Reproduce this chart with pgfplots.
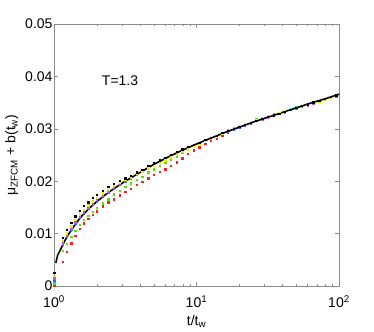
\documentclass[border=0pt]{standalone}
\usepackage{pgfplots}
\pgfplotsset{compat=1.18}
\usepackage{pgfplotstable}
\usetikzlibrary{calc}
\usepackage{fontspec}
\setmainfont{Liberation Sans}
\definecolor{myyel}{RGB}{235,235,0}
\definecolor{myvio}{RGB}{185,80,255}
\definecolor{myblu}{RGB}{60,90,255}
\definecolor{mycya}{RGB}{0,215,215}
\definecolor{mygrn}{RGB}{80,230,0}
\definecolor{myred}{RGB}{255,30,30}
\definecolor{axgray}{RGB}{140,140,140}

% t/tw and the seven measured curves
\pgfplotstableread{
t      k      y      m      b      c      g      r
1.000  0.0025 0.0020 0.0015 0.0011 0.0007 0.0004 0.0000
1.148  0.0092 0.0086 0.0082 0.0079 0.0080 0.0067 0.0046
1.230  0.0108 0.0101 0.0097 0.0094 0.0095 0.0081 0.0065
1.318  0.0121 0.0114 0.0110 0.0107 0.0108 0.0094 0.0082
1.413  0.0133 0.0126 0.0122 0.0119 0.0120 0.0106 0.0096
1.514  0.0144 0.0137 0.0133 0.0130 0.0131 0.0117 0.0109
1.622  0.0153 0.0146 0.0142 0.0139 0.0140 0.0126 0.0120
1.738  0.0160 0.0154 0.0150 0.0147 0.0148 0.0134 0.0128
1.862  0.0168 0.0162 0.0158 0.0155 0.0156 0.0142 0.0136
1.995  0.0174 0.0169 0.0165 0.0162 0.0163 0.0149 0.0143
2.188  0.0182 0.0177 0.0173 0.0171 0.0171 0.0158 0.0152
2.399  0.0189 0.0184 0.0181 0.0179 0.0179 0.0166 0.0160
2.630  0.0195 0.0191 0.0188 0.0186 0.0187 0.0175 0.0166
2.884  0.0201 0.0197 0.0195 0.0193 0.0194 0.0182 0.0173
3.162  0.0206 0.0203 0.0201 0.0200 0.0200 0.0189 0.0180
3.467  0.0211 0.0208 0.0207 0.0206 0.0206 0.0196 0.0186
3.802  0.0217 0.0214 0.0213 0.0213 0.0213 0.0203 0.0193
4.169  0.0222 0.0219 0.0219 0.0219 0.0219 0.0209 0.0199
4.571  0.0229 0.0225 0.0226 0.0226 0.0226 0.0217 0.0206
5.012  0.0234 0.0230 0.0232 0.0232 0.0232 0.0223 0.0212
5.495  0.0240 0.0236 0.0239 0.0238 0.0238 0.0230 0.0218
6.026  0.0245 0.0240 0.0244 0.0243 0.0243 0.0236 0.0223
6.607  0.0251 0.0246 0.0250 0.0249 0.0249 0.0242 0.0229
7.244  0.0256 0.0251 0.0255 0.0254 0.0254 0.0248 0.0236
7.943  0.0261 0.0256 0.0260 0.0259 0.0259 0.0254 0.0244
8.710  0.0266 0.0261 0.0265 0.0264 0.0264 0.0260 0.0252
9.550  0.0270 0.0267 0.0270 0.0269 0.0269 0.0266 0.0259
10.47  0.0274 0.0271 0.0274 0.0273 0.0273 0.0271 0.0265
11.48  0.0279 0.0277 0.0279 0.0278 0.0278 0.0277 0.0272
12.59  0.0283 0.0281 0.0283 0.0282 0.0282 0.0282 0.0277
13.80  0.0287 0.0286 0.0287 0.0286 0.0286 0.0287 0.0282
15.14  0.0292 0.0291 0.0292 0.0291 0.0291 0.0293 0.0288
16.60  0.0296 0.0296 0.0296 0.0295 0.0295 0.0297 0.0293
18.20  0.0300 0.0300 0.0300 0.0299 0.0299 0.0302 0.0298
19.95  0.0304 0.0305 0.0304 0.0303 0.0303 0.0306 0.0303
21.88  0.0308 0.0309 0.0308 0.0307 0.0307 0.0310 0.0307
23.99  0.0312 0.0313 0.0312 0.0311 0.0311 0.0314 0.0311
26.30  0.0316 0.0317 0.0316 0.0315 0.0316 0.0318 0.0315
28.84  0.0319 0.0320 0.0318 0.0318 0.0319 0.0320 0.0318
31.62  0.0323 0.0324 0.0322 0.0322 0.0323 0.0324 0.0322
34.67  0.0326 0.0327 0.0326 0.0326 0.0327 0.0328 0.0326
38.02  0.0329 0.0330 0.0329 0.0329 0.0330 0.0330 0.0329
41.69  0.0333 0.0334 0.0332 0.0333 0.0334 0.0334 0.0333
45.71  0.0337 0.0337 0.0336 0.0337 0.0338 0.0338 0.0337
50.12  0.0340 0.0340 0.0339 0.0340 0.0341 0.0340 0.0340
54.95  0.0344 0.0344 0.0343 0.0344 0.0344 0.0344 0.0344
60.26  0.0347 0.0346 0.0345 0.0346 0.0347 0.0347 0.0347
66.07  0.0351 0.0350 0.0349 0.0350 0.0351 0.0351 0.0350
72.44  0.0354 0.0353 0.0352 0.0353 0.0354 0.0354 0.0353
79.43  0.0357 0.0356 0.0355 0.0356 0.0357 0.0357 0.0356
87.10  0.0361 0.0360 0.0359 0.0360 0.0361 0.0361 0.0360
95.50  0.0364 0.0363 0.0362 0.0363 0.0364 0.0364 0.0363
}\meas

% fitted curve
\pgfplotstableread{
t      f
1.030  0.0044
1.059  0.0058
1.122  0.0072
1.189  0.0086
1.259  0.0098
1.334  0.0108
1.413  0.0118
1.496  0.0127
1.585  0.0135
1.778  0.0149
1.995  0.0161
2.239  0.0172
2.512  0.0182
2.818  0.0191
3.162  0.0200
3.548  0.0208
3.981  0.0216
4.467  0.0224
5.012  0.0232
6.310  0.0246
7.943  0.0259
10.00  0.0271
12.59  0.0282
15.85  0.0293
19.95  0.0303
25.12  0.0313
31.62  0.0322
39.81  0.0331
50.12  0.0340
63.10  0.0349
79.43  0.0357
100.0  0.0366
}\fitc

\begin{document}
\begin{tikzpicture}
\begin{axis}[
  xmode=log, scale only axis, width=285pt, height=262pt,
  xmin=1, xmax=100, ymin=0, ymax=0.05,
  font=\fontsize{14}{16}\selectfont,
  xtick={1,10,100},
  xticklabels={10\textsuperscript{0},10\textsuperscript{1},10\textsuperscript{2}},
  xticklabel style={yshift=-6pt},
  ytick={0,0.01,0.02,0.03,0.04,0.05},
  yticklabels={0,0.01,0.02,0.03,0.04,0.05},
  yticklabel style={xshift=2pt},
  scaled y ticks=false,
  tick align=inside, major tick length=4pt, minor tick length=2pt,
  axis line style={axgray}, tick style={axgray},
  xlabel={t/t\textsubscript{w}},
  xlabel style={yshift=-1pt},
  ylabel={μ\textsubscript{ZFCM} + b(t\textsubscript{w})},
  every axis plot/.append style={only marks, mark=square*, mark size=0.7pt},
]
\addplot[myred, mark options={draw=myred,fill=myred}] table[x=t,y=r] {\meas};
\addplot[mygrn, mark options={draw=mygrn,fill=mygrn}] table[x=t,y=g] {\meas};
\addplot[mycya, mark options={draw=mycya,fill=mycya}] table[x=t,y=c] {\meas};
\addplot[myblu, mark options={draw=myblu,fill=myblu}] table[x=t,y=b] {\meas};
\addplot[myvio, mark options={draw=myvio,fill=myvio}] table[x=t,y=m] {\meas};
\addplot[myyel, mark options={draw=myyel,fill=myyel}] table[x=t,y=y] {\meas};
\addplot[black, mark options={draw=black,fill=black}] table[x=t,y=k] {\meas};
\addplot[black, line width=1.6pt, no markers, sharp plot] table[x=t,y=f] {\fitc};
\node[anchor=west, font=\fontsize{14}{16}\selectfont] at (axis cs:2.05,0.0392) {T=1.3};
\end{axis}
\path ($(current axis.south west)+(-54pt,-46pt)$) rectangle ($(current axis.north east)+(35pt,24pt)$);
\end{tikzpicture}
\end{document}
